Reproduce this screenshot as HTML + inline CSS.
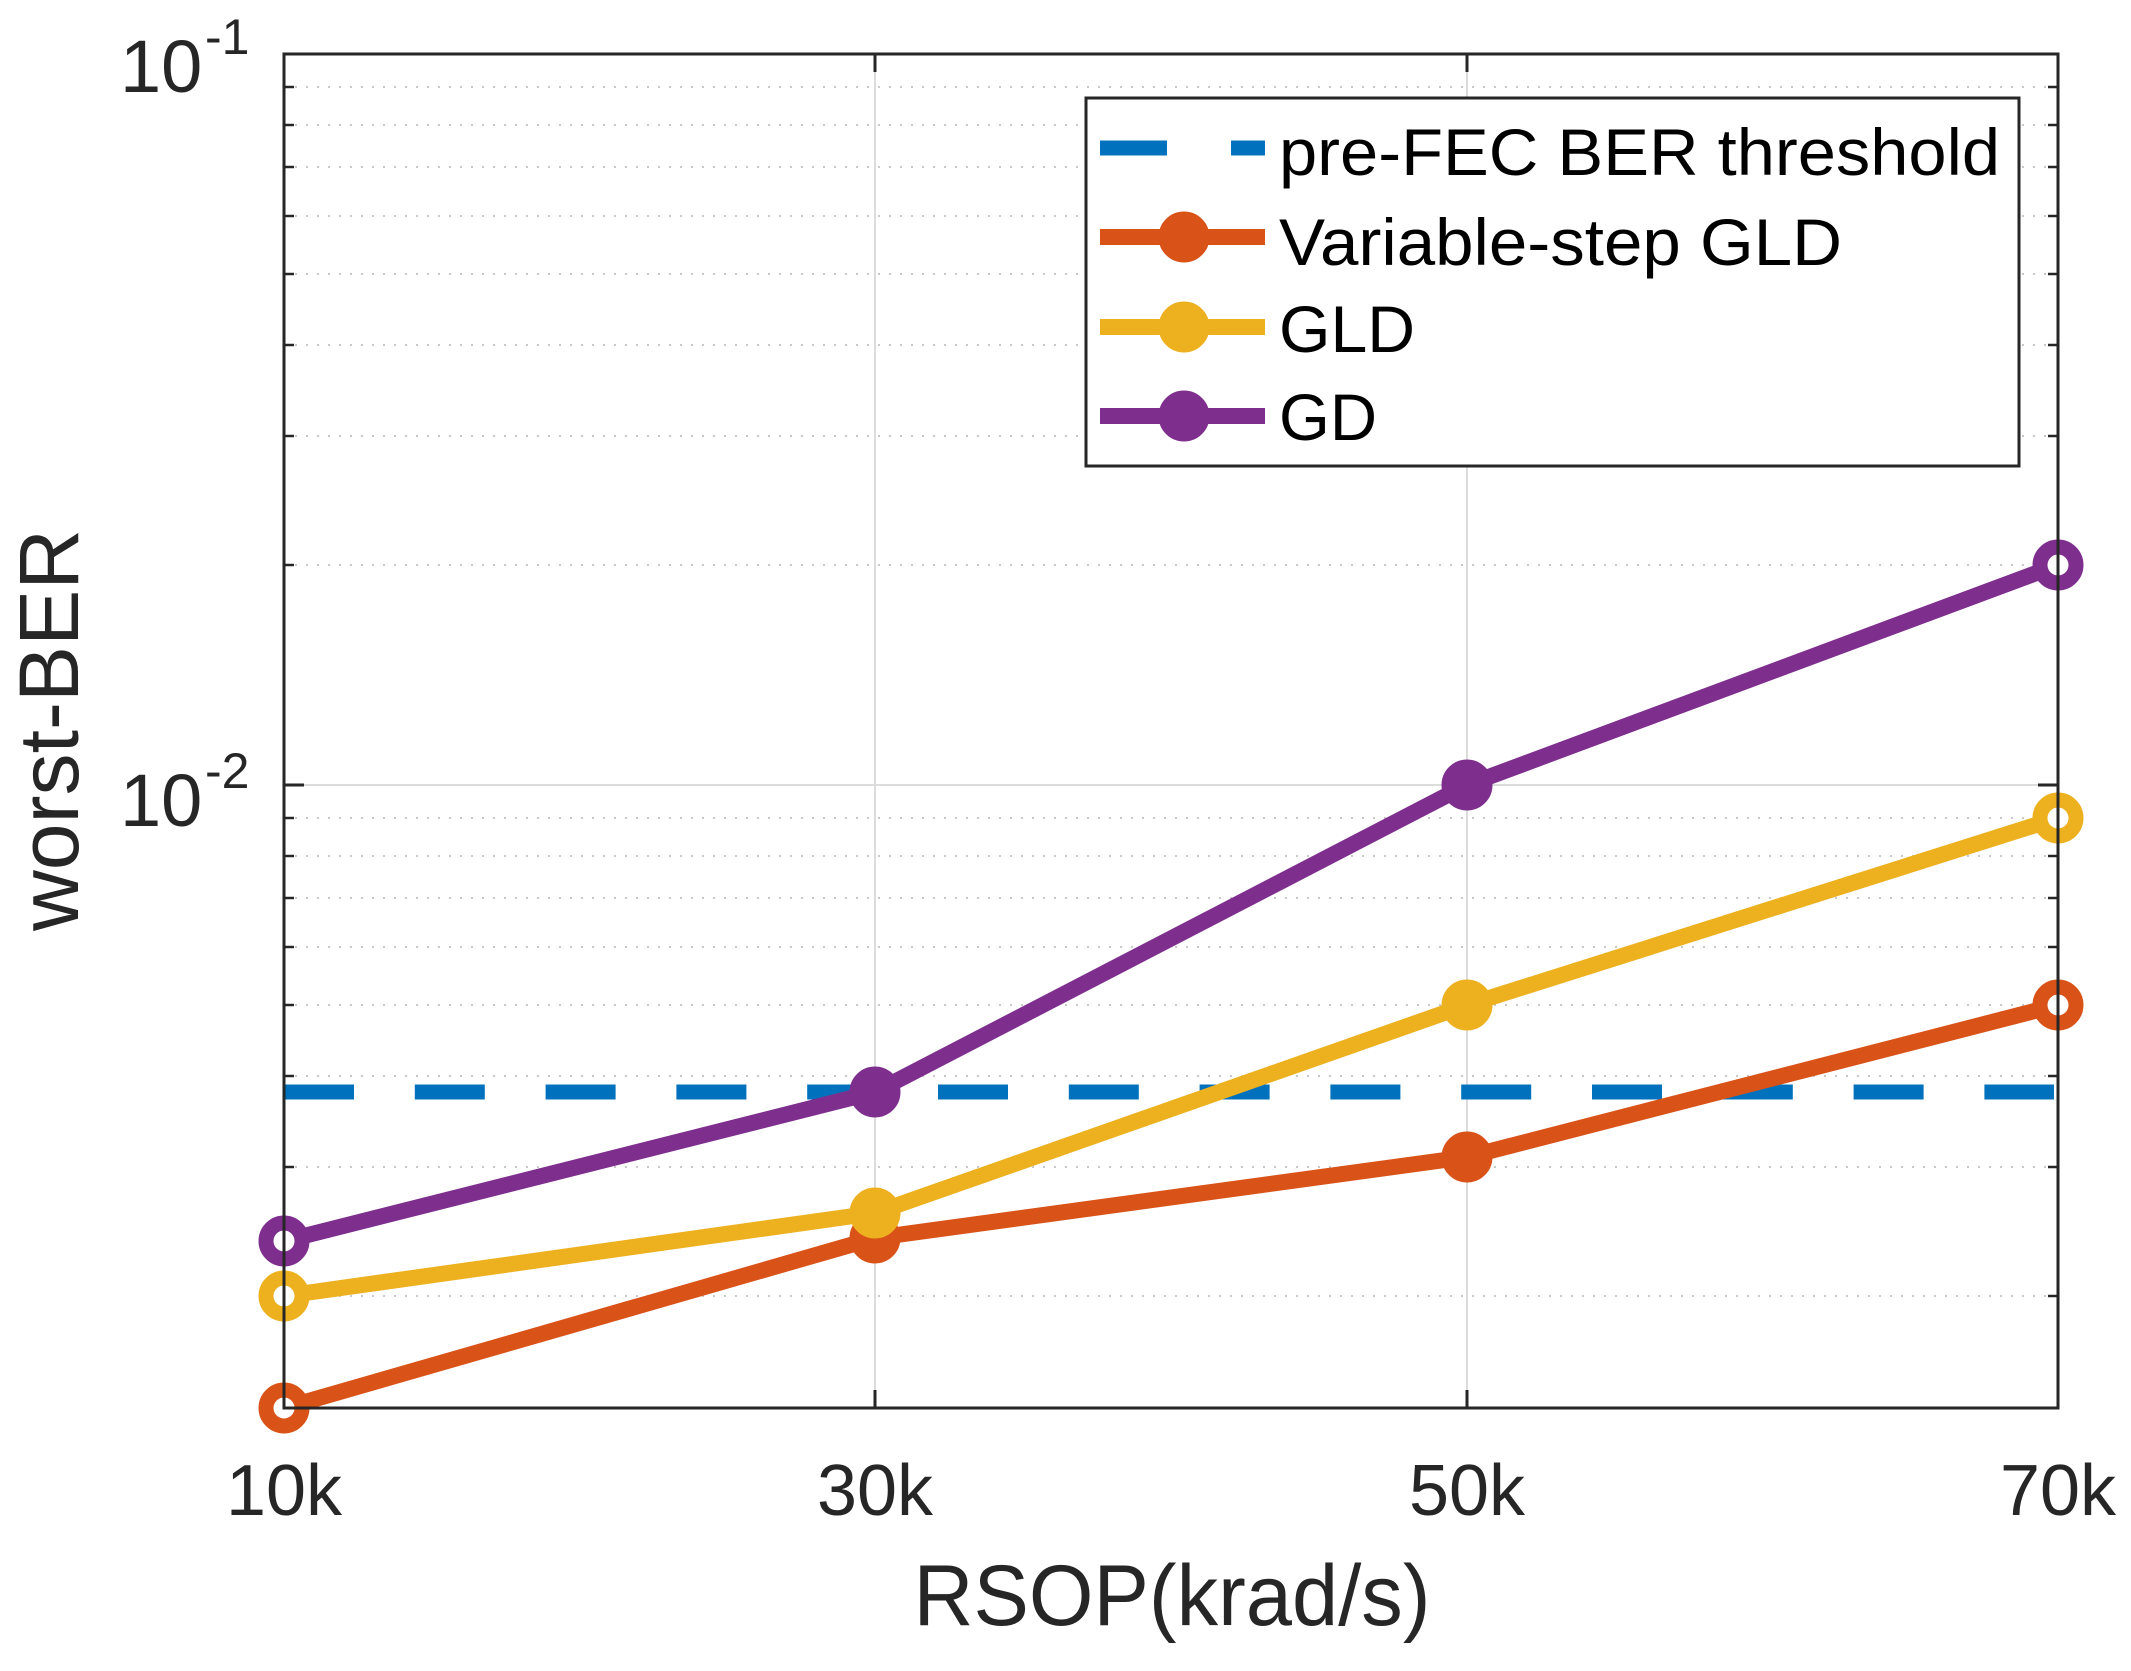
<!DOCTYPE html>
<html><head><meta charset="utf-8"><style>html,body{margin:0;padding:0;background:#fff}svg{display:block}</style></head>
<body>
<svg width="2131" height="1671" viewBox="0 0 2131 1671" xmlns="http://www.w3.org/2000/svg" font-family="Liberation Sans, Arial, sans-serif">
<rect width="2131" height="1671" fill="#fff"/>
<g stroke="#c8c8c8" stroke-width="2" stroke-dasharray="2 9">
<line x1="284" x2="2058" y1="87" y2="87"/><line x1="284" x2="2058" y1="125" y2="125"/><line x1="284" x2="2058" y1="167" y2="167"/><line x1="284" x2="2058" y1="216" y2="216"/><line x1="284" x2="2058" y1="274" y2="274"/><line x1="284" x2="2058" y1="345" y2="345"/><line x1="284" x2="2058" y1="436" y2="436"/><line x1="284" x2="2058" y1="565" y2="565"/>
<line x1="284" x2="2058" y1="818" y2="818"/><line x1="284" x2="2058" y1="856" y2="856"/><line x1="284" x2="2058" y1="898" y2="898"/><line x1="284" x2="2058" y1="947" y2="947"/><line x1="284" x2="2058" y1="1005" y2="1005"/><line x1="284" x2="2058" y1="1076" y2="1076"/><line x1="284" x2="2058" y1="1167" y2="1167"/><line x1="284" x2="2058" y1="1296" y2="1296"/>
</g>
<g stroke="#dcdcdc" stroke-width="2">
<line x1="284" x2="2058" y1="785" y2="785"/>
<line x1="875" x2="875" y1="54" y2="1408"/><line x1="1467" x2="1467" y1="54" y2="1408"/>
</g>
<g stroke="#262626" stroke-width="3">
<line x1="284" x2="304" y1="785" y2="785"/><line x1="2058" x2="2038" y1="785" y2="785"/>
<g stroke-width="2.5">
<line x1="284" x2="294" y1="87" y2="87"/><line x1="284" x2="294" y1="125" y2="125"/><line x1="284" x2="294" y1="167" y2="167"/><line x1="284" x2="294" y1="216" y2="216"/><line x1="284" x2="294" y1="274" y2="274"/><line x1="284" x2="294" y1="345" y2="345"/><line x1="284" x2="294" y1="436" y2="436"/><line x1="284" x2="294" y1="565" y2="565"/>
<line x1="284" x2="294" y1="818" y2="818"/><line x1="284" x2="294" y1="856" y2="856"/><line x1="284" x2="294" y1="898" y2="898"/><line x1="284" x2="294" y1="947" y2="947"/><line x1="284" x2="294" y1="1005" y2="1005"/><line x1="284" x2="294" y1="1076" y2="1076"/><line x1="284" x2="294" y1="1167" y2="1167"/><line x1="284" x2="294" y1="1296" y2="1296"/>
<line x1="2058" x2="2048" y1="87" y2="87"/><line x1="2058" x2="2048" y1="125" y2="125"/><line x1="2058" x2="2048" y1="167" y2="167"/><line x1="2058" x2="2048" y1="216" y2="216"/><line x1="2058" x2="2048" y1="274" y2="274"/><line x1="2058" x2="2048" y1="345" y2="345"/><line x1="2058" x2="2048" y1="436" y2="436"/><line x1="2058" x2="2048" y1="565" y2="565"/>
<line x1="2058" x2="2048" y1="818" y2="818"/><line x1="2058" x2="2048" y1="856" y2="856"/><line x1="2058" x2="2048" y1="898" y2="898"/><line x1="2058" x2="2048" y1="947" y2="947"/><line x1="2058" x2="2048" y1="1005" y2="1005"/><line x1="2058" x2="2048" y1="1076" y2="1076"/><line x1="2058" x2="2048" y1="1167" y2="1167"/><line x1="2058" x2="2048" y1="1296" y2="1296"/>
</g>
<line x1="875" x2="875" y1="1408" y2="1390"/><line x1="1467" x2="1467" y1="1408" y2="1390"/>
<line x1="875" x2="875" y1="54" y2="72"/><line x1="1467" x2="1467" y1="54" y2="72"/>
</g>
<line x1="284" x2="2054" y1="1092" y2="1092" stroke="#0072BD" stroke-width="15" stroke-dasharray="70 60.8"/>
<g fill="none" stroke-width="16" stroke-linejoin="round">
<polyline stroke="#D95319" points="284,1408 875,1238 1467,1157 2058,1005"/>
<polyline stroke="#EDB120" points="284,1296 875,1213 1467,1005 2058,818"/>
<polyline stroke="#7E2F8E" points="284,1241 875,1092 1467,785 2058,565"/>
</g>
<g stroke-width="15" fill="#fff">
<g stroke="#D95319"><circle cx="284" cy="1408" r="18"/><circle cx="875" cy="1238" r="18" fill="#D95319"/><circle cx="1467" cy="1157" r="18" fill="#D95319"/><circle cx="2058" cy="1005" r="18"/></g>
<g stroke="#EDB120"><circle cx="284" cy="1296" r="18"/><circle cx="875" cy="1213" r="18" fill="#EDB120"/><circle cx="1467" cy="1005" r="18" fill="#EDB120"/><circle cx="2058" cy="818" r="18"/></g>
<g stroke="#7E2F8E"><circle cx="284" cy="1241" r="18"/><circle cx="875" cy="1092" r="18" fill="#7E2F8E"/><circle cx="1467" cy="785" r="18" fill="#7E2F8E"/><circle cx="2058" cy="565" r="18"/></g>
</g>
<rect x="284" y="54" width="1774" height="1354" fill="none" stroke="#262626" stroke-width="3"/>
<rect x="1086" y="98" width="933" height="368" fill="#fff" stroke="#262626" stroke-width="3"/>
<line x1="1100" x2="1265" y1="148" y2="148" stroke="#0072BD" stroke-width="15" stroke-dasharray="67 64"/>
<line x1="1100" x2="1265" y1="237" y2="237" stroke="#D95319" stroke-width="16"/><circle cx="1184" cy="237" r="18" fill="#D95319" stroke="#D95319" stroke-width="15"/>
<line x1="1100" x2="1265" y1="327" y2="327" stroke="#EDB120" stroke-width="16"/><circle cx="1184" cy="327" r="18" fill="#EDB120" stroke="#EDB120" stroke-width="15"/>
<line x1="1100" x2="1265" y1="416" y2="416" stroke="#7E2F8E" stroke-width="16"/><circle cx="1184" cy="416" r="18" fill="#7E2F8E" stroke="#7E2F8E" stroke-width="15"/>
<g font-size="66" fill="#000">
<text x="1279" y="175" textLength="721" lengthAdjust="spacingAndGlyphs">pre-FEC BER threshold</text>
<text x="1279" y="265" textLength="563" lengthAdjust="spacingAndGlyphs">Variable-step GLD</text>
<text x="1279" y="352" textLength="136" lengthAdjust="spacingAndGlyphs">GLD</text>
<text x="1279" y="440" textLength="98" lengthAdjust="spacingAndGlyphs">GD</text>
</g>
<g fill="#262626" font-size="74">
<text x="120" y="92">10</text><text x="205" y="54" font-size="50">-1</text>
<text x="120" y="826">10</text><text x="205" y="788" font-size="50">-2</text>
</g>
<g fill="#262626" font-size="72" text-anchor="middle">
<text x="284" y="1515" textLength="116" lengthAdjust="spacingAndGlyphs">10k</text>
<text x="875" y="1515" textLength="116" lengthAdjust="spacingAndGlyphs">30k</text>
<text x="1467" y="1515" textLength="116" lengthAdjust="spacingAndGlyphs">50k</text>
<text x="2058" y="1515" textLength="116" lengthAdjust="spacingAndGlyphs">70k</text>
</g>
<text x="1172" y="1625" font-size="86" fill="#262626" text-anchor="middle" textLength="517" lengthAdjust="spacingAndGlyphs">RSOP(krad/s)</text>
<text transform="translate(78,730) rotate(-90)" font-size="84" fill="#262626" text-anchor="middle" textLength="402" lengthAdjust="spacingAndGlyphs">worst-BER</text>
</svg>
</body></html>
